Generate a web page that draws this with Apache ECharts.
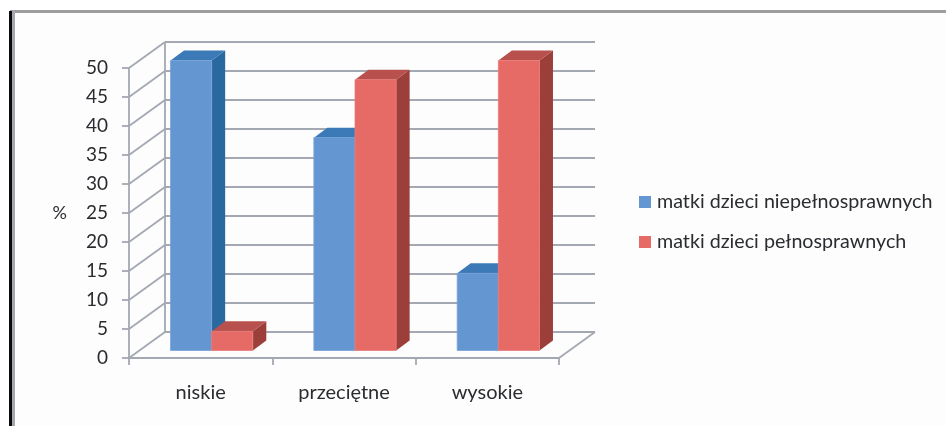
<!DOCTYPE html>
<html>
<head>
<meta charset="utf-8">
<style>html,body{margin:0;padding:0;background:#fff}#chart{width:946px;height:426px}</style>
<script src="https://cdn.jsdelivr.net/npm/echarts@6/dist/echarts.min.js"></script>
</head>
<body>
<div id="chart"></div>
<script>
const categories = ['niskie', 'przeciętne', 'wysokie'];
const seriesNames = ['matki dzieci niepełnosprawnych', 'matki dzieci pełnosprawnych'];
const disabledValues = [50, 36.7, 13.3];
const ableValues = [3.3, 46.7, 50];
const valueTicks = [0, 5, 10, 15, 20, 25, 30, 35, 40, 45, 50];

// Oblique projection of the pseudo-3D box, in pixels.
const wallDepth = { dx: 36, dy: -26 };
const barInset = { dx: 11, dy: -7.5 };
const barDepth = { dx: 13.5, dy: -10 };
const barBandShare = 0.287;

const gridColor = '#a3a8b3';
const textColor = '#2a2c30';
const fontFamily = 'Lato, "Open Sans", sans-serif';

const blueFaces = { front: '#6496d1', top: '#3b7ab7', side: '#2a68a0', edge: '#76a3d8' };
const redFaces = { front: '#e66a66', top: '#b8514d', side: '#9c3f3b', edge: '#ea7c78' };

function line(x1, y1, x2, y2) {
  return {
    type: 'line',
    shape: { x1, y1, x2, y2 },
    style: { stroke: gridColor, lineWidth: 1.8 }
  };
}

// Back wall gridlines plus the diagonals that run across the side wall.
function renderWall(params, api) {
  const box = params.coordSys;
  const y = api.coord([0, api.value(0)])[1];
  const left = box.x;
  const right = box.x + box.width;
  const backY = y + wallDepth.dy;
  const backLeft = left + wallDepth.dx;
  const children = [
    line(left, y, backLeft, backY),
    line(backLeft, backY, right + wallDepth.dx, backY)
  ];
  if (api.value(0) === 0) {
    children.push(line(right, y, right + wallDepth.dx, backY));
    const top = api.coord([0, valueTicks[valueTicks.length - 1]])[1] + wallDepth.dy;
    children.push(line(backLeft, backY, backLeft, top));
  }
  return { type: 'group', children };
}

function face(points, fill, edge) {
  return {
    type: 'polygon',
    shape: { points },
    style: { fill, stroke: edge || fill, lineWidth: edge ? 0.8 : 0 }
  };
}

// One extruded column: front, top and right-hand faces.
function barRenderer(faces, seriesIndex) {
  return function (params, api) {
    const band = params.coordSys.width / categories.length;
    const center = api.coord([api.value(0), 0])[0];
    const w = band * barBandShare;
    const x0 = center + barInset.dx - w + seriesIndex * w;
    const x1 = x0 + w;
    const bottom = api.coord([api.value(0), 0])[1] + barInset.dy;
    const top = api.coord([api.value(0), api.value(1)])[1] + barInset.dy;
    const dx = barDepth.dx;
    const dy = barDepth.dy;
    return {
      type: 'group',
      children: [
        face([[x1, top], [x1 + dx, top + dy], [x1 + dx, bottom + dy], [x1, bottom]], faces.side),
        face([[x0, top], [x0 + dx, top + dy], [x1 + dx, top + dy], [x1, top]], faces.top),
        face([[x0, top], [x1, top], [x1, bottom], [x0, bottom]], faces.front, faces.edge)
      ]
    };
  };
}

const chart = echarts.init(document.getElementById('chart'), null, { renderer: 'canvas' });
chart.setOption({
  animation: false,
  backgroundColor: '#fdfdfd',
  textStyle: { fontFamily },
  grid: { left: 129, right: 387, top: 68, bottom: 68, containLabel: false },
  xAxis: {
    type: 'category',
    data: categories,
    boundaryGap: true,
    axisLine: { show: true, lineStyle: { color: gridColor, width: 1.8 } },
    axisTick: { show: true, alignWithLabel: false, length: 7, lineStyle: { color: gridColor, width: 1.8 } },
    axisLabel: { color: textColor, fontSize: 20, fontFamily, margin: 25 },
    splitLine: { show: false }
  },
  yAxis: {
    type: 'value',
    min: 0,
    max: 50,
    interval: 5,
    name: '%',
    nameLocation: 'middle',
    nameRotate: 0,
    nameGap: 62,
    nameTextStyle: { color: textColor, fontSize: 18, fontFamily, padding: [4, 0, 0, 0] },
    axisLine: { show: true, lineStyle: { color: gridColor, width: 1.8 } },
    axisTick: { show: true, length: 7, lineStyle: { color: gridColor, width: 1.8 } },
    axisLabel: { color: textColor, fontSize: 19, fontFamily, margin: 21, padding: [3, 0, 0, 0] },
    splitLine: { show: false }
  },
  legend: {
    orient: 'vertical',
    left: 634,
    top: 187,
    itemWidth: 12,
    itemHeight: 12,
    itemGap: 20,
    icon: 'rect',
    selectedMode: false,
    data: seriesNames,
    textStyle: { color: textColor, fontSize: 19.7, fontFamily, padding: [0, 0, 0, 1] }
  },
  series: [
    {
      type: 'custom',
      name: 'wall',
      silent: true,
      clip: false,
      z: 1,
      renderItem: renderWall,
      data: valueTicks.map(v => [v])
    },
    {
      type: 'custom',
      name: seriesNames[0],
      clip: false,
      z: 2,
      itemStyle: { color: blueFaces.front },
      renderItem: barRenderer(blueFaces, 0),
      encode: { x: 0, y: 1 },
      data: disabledValues.map((v, i) => [i, v])
    },
    {
      type: 'custom',
      name: seriesNames[1],
      clip: false,
      z: 3,
      itemStyle: { color: redFaces.front },
      renderItem: barRenderer(redFaces, 1),
      encode: { x: 0, y: 1 },
      data: ableValues.map((v, i) => [i, v])
    }
  ],
  // Page frame: heavy black rule on the left, grey rules inside it and along the top.
  graphic: [
    { type: 'rect', silent: true, z: 100, shape: { x: 0, y: 0, width: 946, height: 10 }, style: { fill: '#ffffff' } },
    { type: 'rect', silent: true, z: 100, shape: { x: 0, y: 0, width: 9, height: 426 }, style: { fill: '#ffffff' } },
    { type: 'rect', silent: true, z: 101, shape: { x: 10, y: 10, width: 936, height: 3 }, style: { fill: '#9e9e9e' } },
    { type: 'rect', silent: true, z: 101, shape: { x: 12, y: 10, width: 3, height: 416 }, style: { fill: '#a4a8ac' } },
    { type: 'rect', silent: true, z: 102, shape: { x: 9, y: 11, width: 3, height: 415 }, style: { fill: '#0a0a0a' } }
  ]
});
</script>
</body>
</html>
